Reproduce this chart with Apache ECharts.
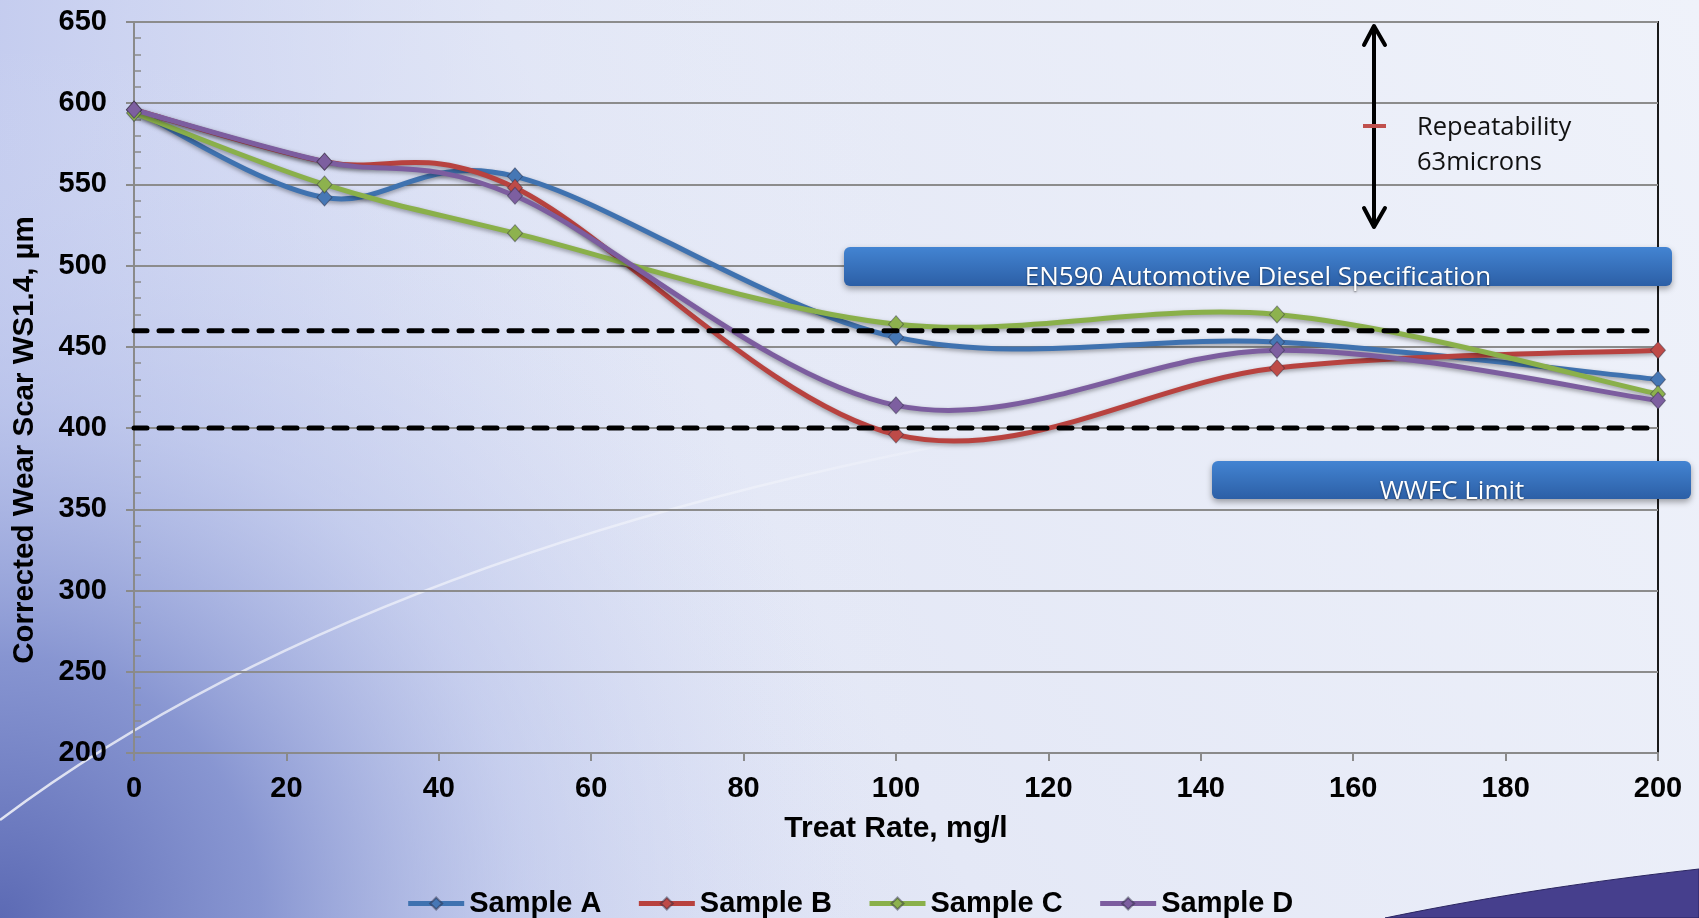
<!DOCTYPE html>
<html>
<head>
<meta charset="utf-8">
<script src="https://cdn.jsdelivr.net/npm/echarts@6/dist/echarts.min.js"></script>
<style>
html,body{margin:0;padding:0;width:1699px;height:918px;overflow:hidden;}
#chart{width:1699px;height:918px;}
</style>
</head>
<body>
<div id="chart"></div>
<script>
// ---- data ----
const treatRates = [0, 25, 50, 100, 150, 200];
const sampleA = [596, 542, 555, 456, 453, 430];
const sampleB = [596, 564, 548, 396, 437, 448];
const sampleC = [594, 550, 520, 464, 470, 421];
const sampleD = [596, 564, 543, 414, 448, 417];
const seriesNames = ['Sample A', 'Sample B', 'Sample C', 'Sample D'];
const limitValues = [460, 400];   // EN590 spec, WWFC limit
const xRange = [0, 200];
const yRange = [200, 650];
const xTickStep = 20;
const yTickStep = 50;

const colors = ['#4677b5', '#be4b48', '#8db24e', '#7d5fa0'];
const lineColors = ['#3f72b0', '#b8423f', '#8ab04a', '#7c5d9f'];
const allSamples = [sampleA, sampleB, sampleC, sampleD];

const chart = echarts.init(document.getElementById('chart'), null, {renderer: 'canvas'});

function pairs(vals) { return treatRates.map((x, i) => [x, vals[i]]); }

// Excel-style smoothed curve (Catmull-Rom -> cubic Bezier) through pixel points from the axes
function smoothPath(pts) {
  let d = 'M' + pts[0][0] + ' ' + pts[0][1];
  for (let i = 0; i < pts.length - 1; i++) {
    const p0 = pts[i - 1] || pts[i], p1 = pts[i], p2 = pts[i + 1], p3 = pts[i + 2] || pts[i + 1];
    const c1x = p1[0] + (p2[0] - p0[0]) / 6, c1y = p1[1] + (p2[1] - p0[1]) / 6;
    const c2x = p2[0] - (p3[0] - p1[0]) / 6, c2y = p2[1] - (p3[1] - p1[1]) / 6;
    d += ' C' + c1x + ' ' + c1y + ' ' + c2x + ' ' + c2y + ' ' + p2[0] + ' ' + p2[1];
  }
  return d;
}

const curveSeries = [];
const markerSeries = [];
allSamples.forEach((vals, i) => {
  curveSeries.push({
    name: seriesNames[i] + ' curve',
    type: 'custom',
    data: pairs(vals),
    clip: false,
    silent: true,
    z: 3,
    renderItem: function (params, api) {
      if (params.dataIndex !== 0) return null;
      const pts = vals.map((v, k) => api.coord([treatRates[k], v]));
      return {
        type: 'path',
        shape: { pathData: smoothPath(pts) },
        style: {
          fill: 'none', stroke: lineColors[i], lineWidth: 5, lineJoin: 'round', lineCap: 'round',
          shadowColor: 'rgba(0,0,0,0.35)', shadowBlur: 4, shadowOffsetY: 2
        }
      };
    }
  });
  markerSeries.push({
    name: seriesNames[i],
    type: 'line',
    data: pairs(vals),
    symbol: 'diamond',
    symbolSize: [15, 17],
    clip: false,
    z: 4,
    lineStyle: { color: lineColors[i], width: 5, opacity: 0 },
    itemStyle: { color: colors[i], borderColor: 'rgba(40,40,60,0.45)', borderWidth: 1 },
    emphasis: { disabled: true }
  });
});

const limitSeries = limitValues.map((v, i) => ({
  name: 'limit' + i,
  type: 'line',
  yAxisIndex: 1,
  data: [[xRange[0], v], [xRange[1], v]],
  symbol: 'none',
  silent: true,
  z: 5,
  lineStyle: { color: '#000', width: 5, type: [13, 12], cap: 'round' }
}));

const labelFont = { fontFamily: 'Liberation Sans, Arial, sans-serif', fontWeight: 'bold', color: '#000' };

function bannerGrad() {
  return new echarts.graphic.LinearGradient(0, 0, 0, 1, [
    { offset: 0, color: '#4384d2' },
    { offset: 1, color: '#2c5fa6' }
  ]);
}

// decorative navy swoosh at bottom-right (quadratic curve approximated)
const swoosh = [];
for (let k = 0; k <= 20; k++) {
  const t = k / 20;
  const x = (1 - t) * (1 - t) * 1385 + 2 * t * (1 - t) * 1530 + t * t * 1699;
  const y = (1 - t) * (1 - t) * 918 + 2 * t * (1 - t) * 888 + t * t * 869;
  swoosh.push([x, y]);
}
swoosh.push([1699, 918]);

const option = {
  animation: false,
  grid: {
    left: 134, right: 41, top: 22, bottom: 165,
    show: true, borderColor: '#1a1a1a', borderWidth: 2, backgroundColor: 'transparent'
  },
  legend: {
    data: seriesNames,
    left: 'center',
    top: 884,
    itemWidth: 56,
    itemHeight: 15,
    itemGap: 35,
    lineStyle: { width: 5, opacity: 1 },
    textStyle: Object.assign({ fontSize: 29 }, labelFont)
  },
  xAxis: {
    type: 'value',
    min: xRange[0], max: xRange[1], interval: xTickStep,
    name: 'Treat Rate, mg/l',
    nameLocation: 'middle',
    nameGap: 61,
    nameTextStyle: Object.assign({ fontSize: 30 }, labelFont),
    axisLine: { show: true, lineStyle: { color: '#8a8a8a', width: 2 } },
    axisTick: { show: true, length: 8, lineStyle: { color: '#8a8a8a', width: 2 } },
    axisLabel: Object.assign({ fontSize: 29, margin: 21 }, labelFont),
    splitLine: { show: false }
  },
  yAxis: [{
    type: 'value',
    min: yRange[0], max: yRange[1], interval: yTickStep,
    axisLine: { show: true, lineStyle: { color: '#8a8a8a', width: 2 } },
    axisTick: { show: true, length: 8, lineStyle: { color: '#8a8a8a', width: 2 } },
    axisLabel: Object.assign({ fontSize: 29, margin: 27 }, labelFont),
    splitLine: { show: true, lineStyle: { color: '#8c8c8c', width: 2 } }
  }, {
    type: 'value',
    position: 'left',
    min: yRange[0], max: yRange[1], interval: yTickStep,
    axisLine: { show: false },
    axisTick: { show: false, inside: true },
    axisLabel: { show: false },
    splitLine: { show: false },
    minorTick: { show: true, splitNumber: 5, length: 7, lineStyle: { color: '#8a8a8a', width: 1.5 } }
  }],
  graphic: [
    // background
    { type: 'rect', z: -100, silent: true, shape: { x: 0, y: 0, width: 1699, height: 918 },
      style: { fill: new echarts.graphic.LinearGradient(0, 1, 1, 0, [
        { offset: 0, color: '#c4cbec' },
        { offset: 0.45, color: '#e4e8f6' },
        { offset: 1, color: '#eff2fa' }
      ]) } },
    { type: 'rect', z: -99, silent: true, shape: { x: 0, y: 0, width: 1699, height: 918 },
      style: { fill: new echarts.graphic.LinearGradient(0, 0, 1, 0, [
        { offset: 0, color: 'rgba(196,204,239,0.95)' },
        { offset: 0.3, color: 'rgba(220,226,246,0.35)' },
        { offset: 0.55, color: 'rgba(236,240,250,0)' }
      ]) } },
    { type: 'rect', z: -98, silent: true, shape: { x: 0, y: 0, width: 1699, height: 918 },
      style: { fill: new echarts.graphic.RadialGradient(0, 1, 0.95, [
        { offset: 0, color: 'rgba(92,106,180,1)' },
        { offset: 0.3, color: 'rgba(124,139,204,0.85)' },
        { offset: 0.6, color: 'rgba(176,187,231,0.45)' },
        { offset: 1, color: 'rgba(220,226,246,0)' }
      ]) } },
    { type: 'bezierCurve', z: -97, silent: true,
      shape: { x1: 0, y1: 820, x2: 1150, y2: 410, cpx1: 400, cpy1: 520 },
      style: { fill: null, lineWidth: 2.5,
        stroke: new echarts.graphic.LinearGradient(0, 0, 1, 0, [
          { offset: 0, color: 'rgba(255,255,255,0.8)' },
          { offset: 0.5, color: 'rgba(255,255,255,0.45)' },
          { offset: 1, color: 'rgba(255,255,255,0)' }
        ]) } },
    { type: 'polygon', z: -96, silent: true,
      shape: { points: swoosh },
      style: { fill: '#463f8d', stroke: '#2a2560', lineWidth: 1 } },

    // y axis name
    { type: 'text', z: 50, silent: true, x: 25, y: 440, rotation: Math.PI / 2,
      style: { text: 'Corrected Wear Scar WS1.4, µm', align: 'center', verticalAlign: 'middle',
        font: 'bold 29.5px "Liberation Sans", Arial, sans-serif', fill: '#000' } },

    // EN590 banner
    { type: 'rect', z: 60, silent: true,
      shape: { x: 844, y: 247, width: 828, height: 39, r: 6 },
      style: { fill: bannerGrad(), shadowColor: 'rgba(0,0,0,0.35)', shadowBlur: 6, shadowOffsetY: 3 } },
    { type: 'text', z: 61, silent: true, x: 1258, y: 278,
      style: { text: 'EN590 Automotive Diesel Specification', align: 'center', verticalAlign: 'middle',
        font: '26px "Open Sans", sans-serif', fill: '#fff',
        textShadowColor: 'rgba(0,0,0,0.5)', textShadowBlur: 2, textShadowOffsetY: 1 } },

    // WWFC banner
    { type: 'rect', z: 60, silent: true,
      shape: { x: 1212, y: 461, width: 479, height: 38, r: 6 },
      style: { fill: bannerGrad(), shadowColor: 'rgba(0,0,0,0.35)', shadowBlur: 6, shadowOffsetY: 3 } },
    { type: 'text', z: 61, silent: true, x: 1452, y: 492,
      style: { text: 'WWFC Limit', align: 'center', verticalAlign: 'middle',
        font: '26px "Open Sans", sans-serif', fill: '#fff',
        textShadowColor: 'rgba(0,0,0,0.5)', textShadowBlur: 2, textShadowOffsetY: 1 } },

    // repeatability arrow
    { type: 'line', z: 60, silent: true, shape: { x1: 1374, y1: 26, x2: 1374, y2: 226 },
      style: { stroke: '#000', lineWidth: 4 } },
    { type: 'polyline', z: 60, silent: true, shape: { points: [[1364, 45], [1374, 26], [1385, 45]] },
      style: { stroke: '#000', lineWidth: 4, fill: null, lineJoin: 'round', lineCap: 'round' } },
    { type: 'polyline', z: 60, silent: true, shape: { points: [[1364, 208], [1374, 227], [1385, 208]] },
      style: { stroke: '#000', lineWidth: 4, fill: null, lineJoin: 'round', lineCap: 'round' } },
    { type: 'line', z: 61, silent: true, shape: { x1: 1363, y1: 126, x2: 1386, y2: 126 },
      style: { stroke: '#c0504d', lineWidth: 4 } },
    { type: 'text', z: 61, silent: true, x: 1417, y: 128,
      style: { text: 'Repeatability', align: 'left', verticalAlign: 'middle',
        font: '25.5px "Open Sans", sans-serif', fill: '#111' } },
    { type: 'text', z: 61, silent: true, x: 1417, y: 163,
      style: { text: '63microns', align: 'left', verticalAlign: 'middle',
        font: '25.5px "Open Sans", sans-serif', fill: '#111' } }
  ],
  series: curveSeries.concat(markerSeries, limitSeries)
};

chart.setOption(option);
</script>
</body>
</html>
